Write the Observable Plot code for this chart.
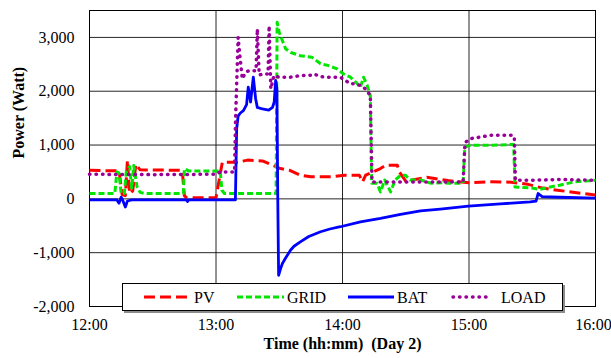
<!DOCTYPE html>
<html>
<head>
<meta charset="utf-8">
<script src="https://cdn.jsdelivr.net/npm/d3@7"></script>
<script src="https://cdn.jsdelivr.net/npm/@observablehq/plot@0.6"></script>
<style>
  html, body { margin: 0; padding: 0; background: #fff; }
  #wrap { position: relative; width: 611px; height: 358px; font-family: "Liberation Serif", "Times New Roman", serif; }
  #wrap svg, #wrap svg text { font-family: "Liberation Serif", "Times New Roman", serif !important; }
  #wrap svg text { white-space: pre; }
  #legend { position: absolute; left: 122px; top: 283px; width: 439px; height: 26px; background: #fff;
            border: 1px solid #000; box-shadow: 2px 2px 0 #8c8c8c; }
  #legend svg { position: absolute; left: 0; top: 0; }
</style>
</head>
<body>
<div id="wrap"><div id="legend"></div></div>
<script>
// ---- data (minutes after 12:00, watts) ----
const seriesNames = ["PV", "GRID", "BAT", "LOAD"];
const seriesColors = ["#ff0000", "#00e600", "#0000ff", "#990099"];
const tickMinutes = [0, 60, 120, 180, 240];
const tickLabels = ["12:00", "13:00", "14:00", "15:00", "16:00"];
const yTicks = [-2000, -1000, 0, 1000, 2000, 3000];

const pv = [[0,530],[14,520],[15.5,80],[17,60],[18,720],[19,100],[20.5,150],[22,640],[24,540],[44,530],[45,60],[46,20],
  [60,20],[61.5,350],[63,680],[70,680],[75,720],[82,705],[86,640],[90,570],[95,530],[100,440],[105,410],[115,410],
  [121,440],[128,440],[129.5,315],[131,440],[138,563],[140.5,624],[146,624],[147,500],[150,330],[160,400],[170,340],
  [180,300],[190,320],[200,310],[208,270],[215,200],[222,160],[234,100],[240,70]];

const grid = [[0,100],[12,100],[13,500],[14,480],[15,100],[16.5,100],[17.5,520],[19,600],[20,200],[21,620],[22.5,230],
  [24,120],[26,100],[44.5,100],[45,560],[47,520],[62,520],[62.8,160],[64,100],[88.5,100],[89,3280],[90,3090],[93,2790],
  [95.5,2720],[100,2660],[105.6,2630],[109.6,2510],[113,2480],[117.5,2415],[120.5,2320],[123.8,2260],[127,2140],
  [128.5,2074],[130,2260],[131.7,2110],[133.2,1920],[133.8,290],[136.4,290],[138,130],[140,350],[142.8,130],[145,350],
  [147.5,440],[149.9,440],[152,350],[157,350],[162,290],[166.5,300],[171,290],[177.2,290],[178,960],[180.6,995],
  [190,995],[200,1010],[201.2,1010],[201.8,222],[204,215],[210,200],[213.5,175],[218.6,222],[223,254],[230,315],[240,346]];

const bat = [[0,-20],[13,-20],[14,-80],[15,30],[15.8,-30],[17,-150],[18,-40],[20,-20],[46,-20],[46.5,-50],[47,-20],
  [69.2,-20],[69.8,1300],[70.5,1540],[71.7,1600],[73,1640],[74.5,1750],[75.3,2074],[76.4,1800],[77.7,2260],[78.8,1860],
  [79.6,1700],[82,1670],[85,1650],[86.8,1700],[87.6,1800],[88.3,2200],[88.9,2050],[89.3,0],[89.7,-1420],[90.6,-1300],
  [91.5,-1200],[93,-1100],[95.4,-950],[97,-880],[100,-800],[104,-700],[109.6,-611],[114,-560],[119,-518],[128.5,-426],
  [138,-363],[147.5,-290],[157,-222],[166.4,-190],[179.7,-135],[194.8,-95],[209,-55],[211.8,-40],[212.8,100],
  [214.7,40],[223,30],[240,15]];

const load = [[0,457],[30,450],[60,457],[62,500],[68.8,500],[69.3,1500],[70.5,3000],[71.2,2700],[72.5,2230],[74,2350],
  [75.5,2380],[79,2380],[79.6,3155],[80.5,2300],[82,2320],[84.7,2320],[85.2,3215],[86,2044],[87.5,2290],[90,2260],
  [95,2260],[100,2290],[105.6,2300],[106.5,2320],[109.6,2270],[114,2260],[119,2260],[121.4,2200],[123.8,2137],
  [126,2137],[128.5,2106],[130.9,2044],[133.2,1920],[134,315],[150,315],[177.2,315],[178,963],[178.5,1056],
  [180.6,1118],[185.4,1148],[190,1180],[200,1180],[201.5,1160],[202,346],[210,346],[223,360],[240,346]];

const dashes = ["11 5", "6 3", null, "0.5 6"];
const widths = [3, 3, 2.8, 3.5];
const allSeries = [pv, grid, bat, load];
const serif = "'Liberation Serif', 'Times New Roman', serif";

const fmtY = d => d3.format(",")(d).replace("\u2212", "-");
const fmtX = d => tickLabels[tickMinutes.indexOf(d)];

const lineMarks = allSeries.map((s, i) => Plot.line(s, {
  x: d => d[0], y: d => d[1], stroke: seriesColors[i], strokeWidth: widths[i],
  strokeDasharray: dashes[i] ?? undefined, strokeLinecap: i === 3 ? "round" : "butt", strokeLinejoin: "round"
}));

const chart = Plot.plot({
  width: 611, height: 358,
  marginLeft: 89, marginRight: 16, marginTop: 10, marginBottom: 52,
  style: {fontFamily: serif, fontSize: "16px", color: "#000", background: "#fff", overflow: "visible"},
  x: {domain: [0, 240]},
  y: {domain: [-2000, 3500]},
  marks: [
    Plot.gridX(tickMinutes, {stroke: "#000", strokeOpacity: 0.85, strokeWidth: 1}),
    Plot.gridY(yTicks, {stroke: "#000", strokeOpacity: 0.85, strokeWidth: 1}),
    Plot.frame({stroke: "#000", strokeWidth: 1}),
    Plot.axisX(tickMinutes.slice(0, 4), {tickSize: 0, tickPadding: 12, tickFormat: fmtX, label: null, fontSize: 16}),
    Plot.axisX(tickMinutes.slice(4), {tickSize: 0, tickPadding: 12, tickFormat: fmtX, label: null, fontSize: 16, dx: -2}),
    Plot.axisY(yTicks, {tickSize: 0, tickPadding: 15, tickFormat: fmtY, label: null, fontSize: 16}),
    ...lineMarks,
    Plot.text(["Power (Watt)"], {frameAnchor: "left", rotate: -90, dx: -71, fontWeight: "bold", fontSize: 16}),
    Plot.text(["Time (hh:mm)  (Day 2)"], {frameAnchor: "bottom", dy: 42, fontWeight: "bold", fontSize: 16})
  ]
});
const wrap = document.getElementById("wrap");
wrap.insertBefore(chart, wrap.firstChild);

// legend
const legendX = [[21, 66, 71], [114, 161, 164], [225, 271, 274], [330, 368, 378]];
const lsvg = d3.select("#legend").append("svg").attr("width", 439).attr("height", 26);
seriesNames.forEach((name, i) => {
  const [x1, x2, tx] = legendX[i];
  lsvg.append("line").attr("x1", x1).attr("x2", x2).attr("y1", 13).attr("y2", 13)
    .attr("stroke", seriesColors[i]).attr("stroke-width", widths[i])
    .attr("stroke-dasharray", dashes[i]).attr("stroke-linecap", i === 3 ? "round" : "butt");
  lsvg.append("text").attr("x", tx).attr("y", 13).attr("dy", "0.35em")
    .attr("font-family", serif).attr("font-size", 16).text(name);
});
</script>
</body>
</html>
